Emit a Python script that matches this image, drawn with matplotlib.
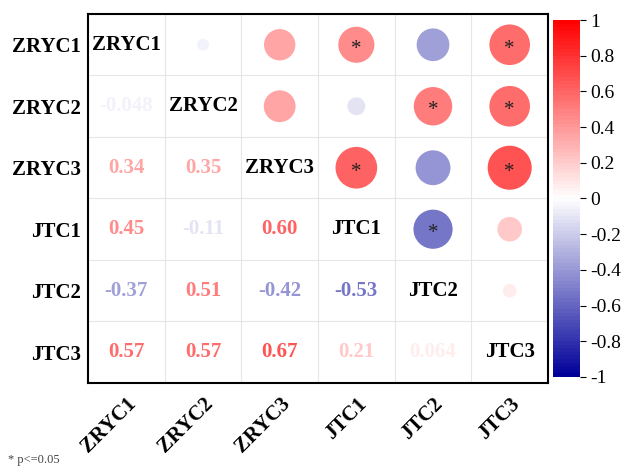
import numpy as np
import matplotlib.pyplot as plt
from matplotlib.colors import LinearSegmentedColormap, Normalize

# variables y matriz de correlación (triangular inferior)
labels = ['ZRYC1', 'ZRYC2', 'ZRYC3', 'JTC1', 'JTC2', 'JTC3']
lower = [
    [],
    [-0.048],
    [0.34, 0.35],
    [0.45, -0.11, 0.60],
    [-0.37, 0.51, -0.42, -0.53],
    [0.57, 0.57, 0.67, 0.21, 0.064],
]
# pares significativos (fila, columna) en el triángulo superior
signif = [(0, 3), (0, 5), (1, 4), (1, 5), (2, 3), (2, 5), (3, 4)]

n = len(labels)
r = np.eye(n)
for i, row in enumerate(lower):
    for j, v in enumerate(row):
        r[i, j] = v
        r[j, i] = v

plt.rcParams['font.family'] = ['Liberation Serif', 'DejaVu Serif']

cmap = LinearSegmentedColormap.from_list('bwr2', [(0, 0, 0.6), (1, 1, 1), (1, 0, 0)], N=100)
norm = Normalize(-1, 1)

fig = plt.figure(figsize=(6.31, 4.67), dpi=100)
ax = fig.add_axes([0.1395, 0.180, 0.729, 0.790])

ax.set_xlim(-0.5, n - 0.5)
ax.set_ylim(n - 0.5, -0.5)

# rejilla
for k in range(1, n):
    ax.axhline(k - 0.5, color='#e6e6e6', lw=0.8, zorder=0)
    ax.axvline(k - 0.5, color='#e6e6e6', lw=0.8, zorder=0)

# triángulo superior: círculos
xs, ys, ss, cs = [], [], [], []
for i in range(n):
    for j in range(i + 1, n):
        xs.append(j)
        ys.append(i)
        ss.append(1500 * abs(r[i, j]))
        cs.append(r[i, j])
ax.scatter(xs, ys, s=ss, c=cs, cmap=cmap, norm=norm, edgecolors='none', zorder=2)

for (i, j) in signif:
    ax.text(j, i + 0.07, '*', ha='center', va='center', fontsize=15, color='#222222', zorder=3)

# triángulo inferior: valores
for i in range(n):
    for j in range(i):
        v = r[i, j]
        txt = f'{v:.2f}' if abs(v) >= 0.1 else f'{v:.2g}'
        ax.text(j, i, txt, ha='center', va='center', fontsize=15, fontweight='bold',
                color=cmap(norm(v)))

# diagonal: nombres
for i in range(n):
    ax.text(i, i, labels[i], ha='center', va='center', fontsize=15, fontweight='bold', color='black')

ax.set_xticks(range(n))
ax.set_yticks(range(n))
ax.set_xticklabels(labels, rotation=45, ha='right', va='top', rotation_mode='anchor',
                   fontsize=15, fontweight='bold')
ax.set_yticklabels(labels, fontsize=15, fontweight='bold')
ax.tick_params(axis='x', length=0, pad=8)
ax.tick_params(axis='y', length=0, pad=5)
for sp in ax.spines.values():
    sp.set_linewidth(1.5)

# barra de color
cax = fig.add_axes([0.876, 0.193, 0.043, 0.764])
sm = plt.cm.ScalarMappable(cmap=cmap, norm=norm)
cb = fig.colorbar(sm, cax=cax, ticks=np.arange(-1, 1.01, 0.2))
cb.ax.set_yticklabels(['-1', '-0.8', '-0.6', '-0.4', '-0.2', '0', '0.2', '0.4', '0.6', '0.8', '1'])
cb.ax.tick_params(labelsize=14, length=4, width=0.8)
cb.outline.set_visible(False)

fig.text(0.013, 0.008, '* p<=0.05', fontsize=9, color='#444444')

fig.savefig('out.png', dpi=100)
